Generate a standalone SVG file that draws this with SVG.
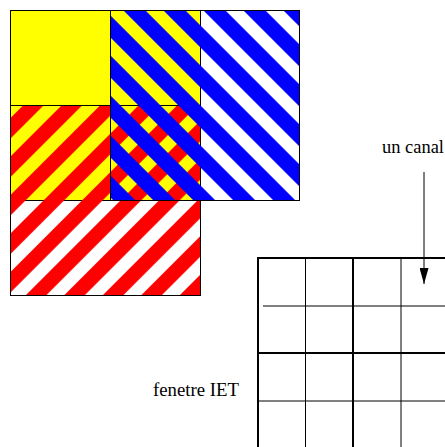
<svg xmlns="http://www.w3.org/2000/svg" width="445" height="447" viewBox="0 0 445 447">
  <style>
    .box { stroke: #000; stroke-width: 1; }
    .thick { stroke: #000; stroke-width: 2; }
    .thin { stroke: #000; stroke-width: 1; }
    .lbl { font-family: "Liberation Serif", "Times New Roman", serif; font-size: 18px; fill: #000; }
    .conn { stroke: #000; stroke-width: 1; fill: none; }
  </style>
  <defs>
    <pattern id="redStripes" patternUnits="userSpaceOnUse" x="9.2" y="0" width="27.22" height="27.22" patternTransform="rotate(45)">
      <rect x="0" y="0" width="14.5" height="27.22" fill="#ff0000"/>
    </pattern>
    <pattern id="blueStripes" patternUnits="userSpaceOnUse" x="23.33" y="0" width="28.28" height="28.28" patternTransform="rotate(-45)">
      <rect x="0" y="0" width="15.56" height="28.28" fill="#0000ff"/>
    </pattern>
    <marker id="arrow" markerUnits="userSpaceOnUse" markerWidth="16" markerHeight="9" viewBox="0 0 16 9" refX="16" refY="4.5" orient="auto">
      <path d="M0,0 L16,4.5 L0,9 z" fill="#000"/>
    </marker>
  </defs>
  <rect width="445" height="447" fill="#fff"/>

  <g id="yellow-square">
    <rect class="box" x="10.5" y="10.5" width="190" height="190" fill="#ffff00"/>
  </g>
  <g id="red-square">
    <rect class="box" x="10.5" y="105.5" width="190" height="190" fill="url(#redStripes)"/>
  </g>
  <g id="blue-square">
    <rect class="box" x="110.5" y="10.5" width="189" height="190" fill="url(#blueStripes)"/>
  </g>

  <g id="grid">
    <line class="thick" x1="258" y1="257" x2="258" y2="447"/>
    <line class="thick" x1="257" y1="258" x2="445" y2="258"/>
    <line class="thin" x1="305.5" y1="258" x2="305.5" y2="447"/>
    <line class="thick" x1="353" y1="258" x2="353" y2="447"/>
    <line class="thin" x1="401" y1="258" x2="401" y2="447"/>
    <line class="thin" x1="263" y1="306" x2="445" y2="306"/>
    <line class="thick" x1="257" y1="353" x2="445" y2="353"/>
    <line class="thin" x1="257" y1="401" x2="445" y2="401"/>
  </g>

  <g id="label-canal">
    <text class="lbl" x="382" y="153" textLength="62" lengthAdjust="spacingAndGlyphs">un canal</text>
  </g>
  <g id="label-fenetre">
    <text class="lbl" x="153" y="396" textLength="86" lengthAdjust="spacingAndGlyphs">fenetre IET</text>
  </g>

  <g id="connectors">
    <line class="conn" x1="424" y1="172" x2="424" y2="284" marker-end="url(#arrow)"/>
  </g>
</svg>
